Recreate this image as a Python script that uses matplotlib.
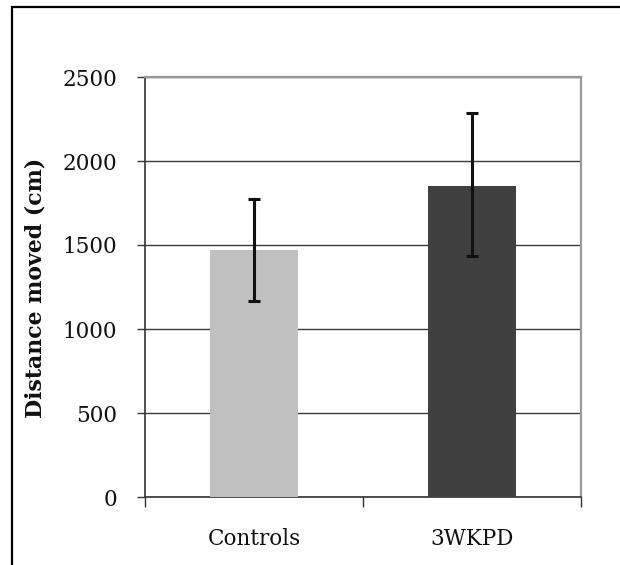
import matplotlib
matplotlib.use("Agg")
import matplotlib.pyplot as plt
from matplotlib.patches import Rectangle

categories = ["Controls", "3WKPD"]
means = [1470, 1851]
err_low = [303, 417]
err_high = [305, 435]
colors = ["#c0c0c0", "#404040"]
yticks = [0, 500, 1000, 1500, 2000, 2500]

W, H = 620, 565
fig = plt.figure(figsize=(W / 100, H / 100), dpi=100)
fig.patch.set_facecolor("white")

# outer frame
fig.patches.append(Rectangle((12 / W, -0.2), 1.2, 1.2 - 7 / H + 0.0,
                             transform=fig.transFigure, fill=False,
                             edgecolor="black", linewidth=1.6))

ax = fig.add_axes([145 / W, 1 - 497 / H, (581 - 145) / W, (497 - 77) / H])
x = list(range(len(categories)))
ax.bar(x, means, width=0.4, color=colors, zorder=3)
ax.errorbar(x, means, yerr=[err_low, err_high], fmt="none", ecolor="#111111",
            elinewidth=2.2, capsize=4.3, capthick=2.2, zorder=4)

ax.set_xlim(-0.5, 1.5)
ax.set_ylim(0, 2500)
ax.set_yticks(yticks)
ax.set_yticklabels([str(v) for v in yticks])
ax.yaxis.grid(True, color="#3a3a3a", linewidth=1.0, zorder=1)
ax.set_axisbelow(True)

ax.set_xticks([-0.5, 0.5, 1.5])
ax.set_xticklabels([])
ax.set_xticks(x, minor=True)
ax.set_xticklabels(categories, minor=True)
ax.tick_params(axis="x", which="minor", length=0, pad=22)
ax.tick_params(axis="x", which="major", direction="out", length=7, width=1.0, color="#333333")
ax.tick_params(axis="y", direction="out", length=6, width=1.0, color="#333333", pad=14)

for lab in ax.get_yticklabels() + ax.get_xticklabels(minor=True):
    lab.set_fontfamily("DejaVu Serif")
    lab.set_fontsize(15.5)
    lab.set_color("#111111")

for side in ("left", "bottom"):
    ax.spines[side].set_color("#333333")
    ax.spines[side].set_linewidth(1.2)
for side in ("top", "right"):
    ax.spines[side].set_color("#999999")
    ax.spines[side].set_linewidth(1.6)

fig.text(36 / W, 1 - 288 / H, "Distance moved (cm)", rotation=90, ha="center", va="center",
         fontfamily="DejaVu Serif", fontweight="bold", fontsize=15.8, color="#111111")

fig.savefig("out.png", dpi=100, facecolor="white")
